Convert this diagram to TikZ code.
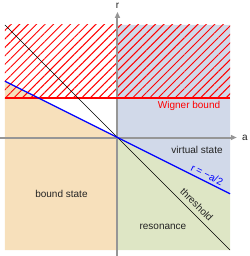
\documentclass[tikz,border=0pt]{standalone}
\usepackage{fontspec}
\setmainfont{Liberation Sans}
\usetikzlibrary{
  arrows.meta,
  patterns.meta
}
\definecolor{boundtan}{RGB}{247,224,187}
\definecolor{virtblue}{RGB}{209,217,233}
\definecolor{resgreen}{RGB}{222,230,197}
\definecolor{axisgray}{RGB}{150,150,150}
\definecolor{textgray}{RGB}{35,35,35}

\begin{document}
\begin{tikzpicture}[x=112.5pt, y=112.5pt,
            axis/.style={draw=axisgray, line width=2pt, -{Triangle[length=6pt, width=5pt]}},
            lbl/.style={font=\fontsize{10}{12}\selectfont, text=textgray, inner sep=0pt}]
            \useasboundingbox (-1.044,-1.053) rectangle (1.169,1.222);
            \coordinate (O) at (0,0);
            \coordinate (wl) at (-1,0.35);
            \coordinate (wr) at (1,0.35);
            % regions
            \fill [boundtan] (-1,-1) -- (-1,0.5) -- (O) -- (0,-1) -- cycle;
            \fill [virtblue] (O) -- (1,-0.5) -- (1,1) -- (0,1) -- cycle;
            \fill [resgreen] (O) -- (0,-1) -- (1,-1) -- (1,-0.5) -- cycle;
            \fill [pattern={Lines[angle=45, distance=6pt, line width=1pt]}, pattern color=red] (wl) rectangle (1,1);
            % axes
            \coordinate (aleft) at (-1.044,0);
            \coordinate (aright) at (1.06,0);
            \coordinate (rbottom) at (0,-1.053);
            \coordinate (rtop) at (0,1.116);
            \draw [axis] (aleft) -- (aright);
            \draw [axis] (rbottom) -- (rtop);
            \node [lbl] (alabel) at (1.133,0) {a};
            \node [lbl] (rlabel) at (0,1.169) {r};
            % lines
            \draw [red, line width=1.3pt] (wl) -- (wr);
            \draw [black, line width=0.6pt] (-1,1) -- (1,-1);
            \draw [blue, line width=1.3pt] (-1,0.5) -- (1,-0.5);
            % labels
            \node [lbl, text=red] (wigner) at (0.636,0.28) {Wigner bound};
            \node [lbl] (virtual) at (0.707,-0.108) {virtual state};
            \node [lbl, text=blue, rotate=-26.57] (rline) at (0.796,-0.33) {r = −a/2};
            \node [lbl] (bound) at (-0.498,-0.5) {bound state};
            \node [lbl, rotate=-45] (thresh) at (0.704,-0.597) {threshold};
            \node [lbl] (reson) at (0.404,-0.798) {resonance};
        \end{tikzpicture}
\end{document}
